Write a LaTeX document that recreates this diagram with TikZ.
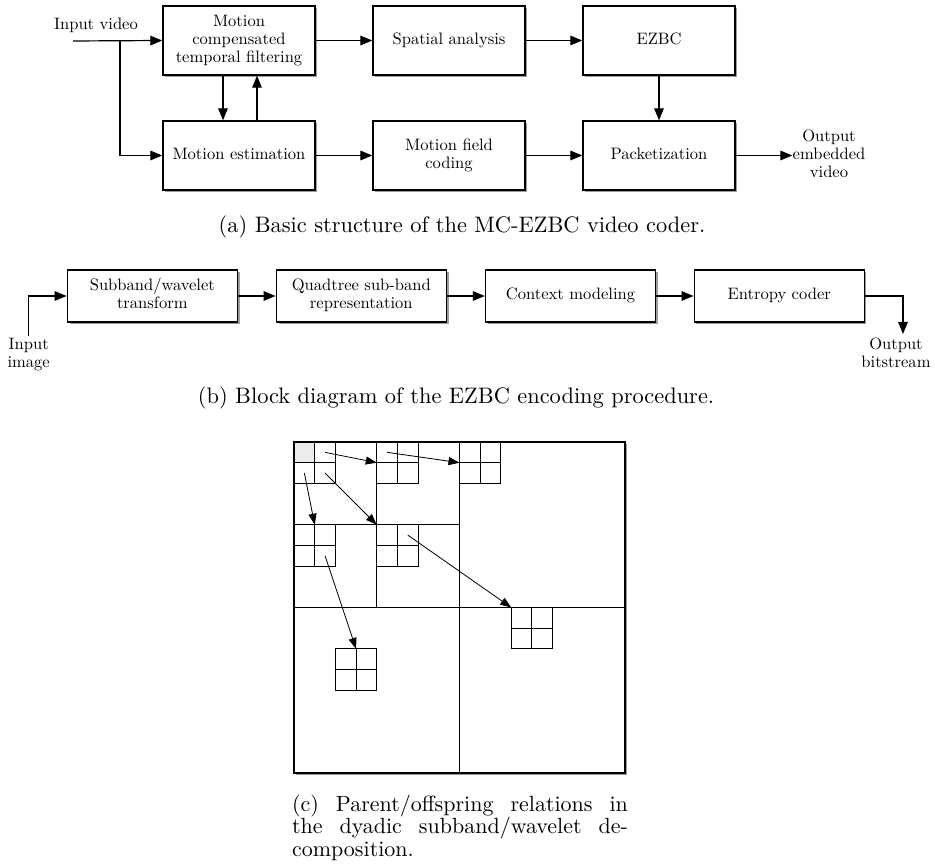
\documentclass[tikz,border=0pt]{standalone}
\usepackage{graphicx}
\usetikzlibrary{arrows.meta,shadows}
\newcommand\bt[1]{\scalebox{0.827}{\fontsize{10}{10.9}\selectfont\begin{tabular}{@{}c@{}}#1\end{tabular}}}
\newcommand\ct[1]{\scalebox{1.12}{\fontsize{10}{12}\selectfont #1}}
\begin{document}
\begin{tikzpicture}[x=0.5pt,y=-0.5pt,
  box/.style={draw, line width=0.7pt, fill=white,
    drop shadow={shadow xshift=1.1pt, shadow yshift=-1.1pt, opacity=0.55, fill=black!70},
    minimum width=76pt, minimum height=34.5pt, inner sep=0pt},
  sbox/.style={box, minimum width=85pt, minimum height=26pt},
  arr/.style={line width=0.6pt, -{Triangle[length=6pt,width=4.8pt]}},
  lbl/.style={inner sep=0pt},
  qarr/.style={line width=0.4pt, -{Triangle[length=5.5pt,width=4pt]}},
  captxt/.style={inner sep=0pt}]
\useasboundingbox (0,0) rectangle (935,865);

% ---------- (a) ----------
\node[box] (mctf) at (239,40.5) {\bt{Motion\\compensated\\temporal filtering}};
\node[box] (sa)   at (449,40.5) {\bt{Spatial analysis}};
\node[box] (ezbc) at (659,40.5) {\bt{EZBC}};
\node[box] (me)   at (239,155.5) {\bt{Motion estimation}};
\node[box] (mfc)  at (449,155.5) {\bt{Motion field\\coding}};
\node[box] (pack) at (659,155.5) {\bt{Packetization}};
\node[lbl] (vidin) at (96,26) {\bt{Input video}};
\node[lbl] (vidout) at (829,155.5) {\bt{Output\\embedded\\video}};
\coordinate (vin) at (73,41);
\coordinate (split) at (120,41);
\draw[arr] (vin) -- (mctf.west);
\draw[arr] (split) |- (me.west);
\draw[arr] (mctf) -- (sa);
\draw[arr] (sa) -- (ezbc);
\draw[arr] (ezbc) -- (pack);
\draw[arr] (me) -- (mfc);
\draw[arr] (mfc) -- (pack);
\draw[arr] (pack) -- (vidout.west);
\draw[arr] ([xshift=-8pt]mctf.south) -- ([xshift=-8pt]me.north);
\draw[arr] ([xshift=9pt]me.north) -- ([xshift=9pt]mctf.south);
\node[captxt, anchor=base] (capa) at (462,233) {\ct{(a) Basic structure of the MC-EZBC video coder.}};

% ---------- (b) ----------
\node[sbox] (sub) at (152.3,296) {\bt{Subband/wavelet\\transform}};
\node[sbox] (quad) at (361.3,296) {\bt{Quadtree sub-band\\representation}};
\node[sbox] (ctx) at (570.5,296) {\bt{Context modeling}};
\node[sbox] (ent) at (779.2,296) {\bt{Entropy coder}};
\node[lbl, anchor=north] (imgin) at (28.7,336) {\bt{Input\\image}};
\node[lbl, anchor=north] (bsout) at (896,336) {\bt{Output\\bitstream}};
\coordinate (obend) at (903,334);
\draw[arr] (imgin.north) |- (sub.west);
\draw[arr] (sub) -- (quad);
\draw[arr] (quad) -- (ctx);
\draw[arr] (ctx) -- (ent);
\draw[arr] (ent.east) -| (obend);
\node[captxt, anchor=base] (capb) at (456,403) {\ct{(b) Block diagram of the EZBC encoding procedure.}};

% ---------- (c) ----------
\begin{scope}[shift={(294,442)}, x=10.34375pt, y=-10.34375pt]
  \path[draw, line width=0.7pt, fill=white,
    drop shadow={shadow xshift=1pt, shadow yshift=-1pt, opacity=0.55, fill=black!70}]
    (0,0) rectangle (16,16);
  \fill[gray!15] (0,0) rectangle (1,1);
  \begin{scope}[line width=0.55pt]
    \draw (8,0) -- (8,16) (0,8) -- (16,8);
    \draw (4,0) -- (4,8) (0,4) -- (8,4);
    \draw (0,0) rectangle (2,2) (1,0) -- (1,2) (0,1) -- (2,1);
    \draw (4,0) rectangle (6,2) (5,0) -- (5,2) (4,1) -- (6,1);
    \draw (8,0) rectangle (10,2) (9,0) -- (9,2) (8,1) -- (10,1);
    \draw (0,4) rectangle (2,6) (1,4) -- (1,6) (0,5) -- (2,5);
    \draw (4,4) rectangle (6,6) (5,4) -- (5,6) (4,5) -- (6,5);
    \draw (10.5,8) rectangle (12.5,10) (11.5,8) -- (11.5,10) (10.5,9) -- (12.5,9);
    \draw (2,10) rectangle (4,12) (3,10) -- (3,12) (2,11) -- (4,11);
  \end{scope}
  \coordinate (p1) at (1.5,0.5);   \coordinate (c1) at (4,1);
  \coordinate (p2) at (4.5,0.5);   \coordinate (c2) at (8,1);
  \coordinate (p3) at (0.5,1.5);   \coordinate (c3) at (1,4);
  \coordinate (p4) at (1.5,1.5);   \coordinate (c4) at (4,4);
  \coordinate (p5) at (5.5,4.5);   \coordinate (c5) at (10.5,8);
  \coordinate (p6) at (1.5,5.5);   \coordinate (c6) at (3,10);
  \foreach \i in {1,...,6} \draw[qarr] (p\i) -- (c\i);
\end{scope}
\node[captxt, anchor=base] (capc) at (460,811.5)
  {\scalebox{1.1}{\parbox[t]{152.7pt}{\fontsize{10}{10.2}\selectfont
   (c) Parent/offspring relations in\linebreak the dyadic subband/wavelet de-\linebreak composition.}}};
\end{tikzpicture}
\end{document}
